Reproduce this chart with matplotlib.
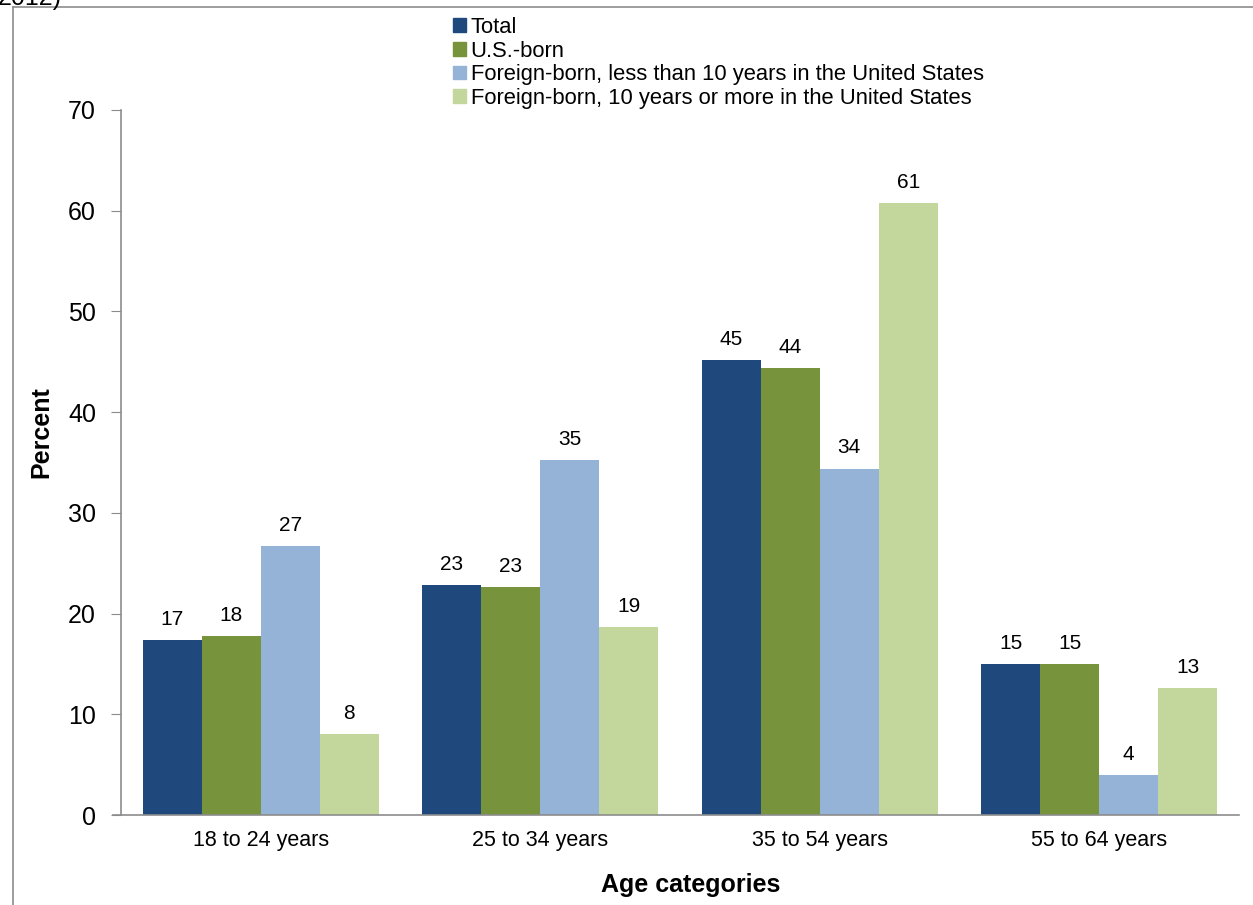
import numpy as np
import matplotlib.pyplot as plt
from matplotlib.lines import Line2D

plt.rcParams['font.family'] = ['Liberation Sans', 'DejaVu Sans']

categories = ['18 to 24 years', '25 to 34 years', '35 to 54 years', '55 to 64 years']
series_names = ['Total', 'U.S.-born',
                'Foreign-born, less than 10 years in the United States',
                'Foreign-born, 10 years or more in the United States']
total = [17.4, 22.8, 45.2, 15.0]
us_born = [17.8, 22.6, 44.4, 15.0]
foreign_lt10 = [26.7, 35.2, 34.4, 4.0]
foreign_10plus = [8.0, 18.7, 60.8, 12.6]
colors = ['#1F497D', '#77933C', '#95B3D7', '#C3D69B']

fig = plt.figure(figsize=(12.53, 9.05), dpi=100)
ax = fig.add_axes([0.0966, 0.0994, 0.8922, 0.7791])

# outer frame, partly off the page
fig.add_artist(Line2D([13/1253, 1], [1-7/905, 1-7/905], color='#8c8c8c', lw=1.2))
fig.add_artist(Line2D([13/1253, 13/1253], [0, 1-7/905], color='#8c8c8c', lw=1.2))
fig.text(-2/1253, 1-5/905, '2012)', fontsize=18, va='baseline', ha='left')

x = np.arange(len(categories))
w = 0.211
series = [total, us_born, foreign_lt10, foreign_10plus]
for i, vals in enumerate(series):
    pos = x + (i - 1.5) * w
    bars = ax.bar(pos, vals, width=w, color=colors[i], label=series_names[i])
    for b, v in zip(bars, vals):
        ax.text(b.get_x() + b.get_width()/2, v + 1.1, str(int(round(v))),
                ha='center', va='bottom', fontsize=15)

ax.set_xlim(-0.5, 3.5)
ax.set_ylim(0, 70)
ax.set_yticks(range(0, 71, 10))
ax.set_xticks(x)
ax.set_xticklabels(categories, fontsize=15.5)
ax.tick_params(axis='x', length=0, pad=11)
ax.tick_params(axis='y', labelsize=18, length=7, color='#8c8c8c', pad=11)
for s in ['top', 'right']:
    ax.spines[s].set_visible(False)
for s in ['left', 'bottom']:
    ax.spines[s].set_color('#8c8c8c')
    ax.spines[s].set_linewidth(1.2)
ax.spines['bottom'].set_bounds(-0.5 - 8/279.5, 3.5)

ax.set_ylabel('Percent', fontsize=18, fontweight='bold')
ax.set_xlabel('Age categories', fontsize=18, fontweight='bold')
ax.yaxis.set_label_coords(-68/1118, 0.543)
ax.xaxis.set_label_coords(0.51, -58/705)

handles = [plt.Rectangle((0, 0), 1, 1, color=c) for c in colors]
fig.legend(handles, series_names, loc='upper left', bbox_to_anchor=(453/1253, 1-17/905),
           frameon=False, fontsize=15.8, handlelength=0.6, handleheight=0.6,
           handletextpad=0.2, labelspacing=0.12, borderpad=0, borderaxespad=0)

fig.savefig('out.png', dpi=100)
